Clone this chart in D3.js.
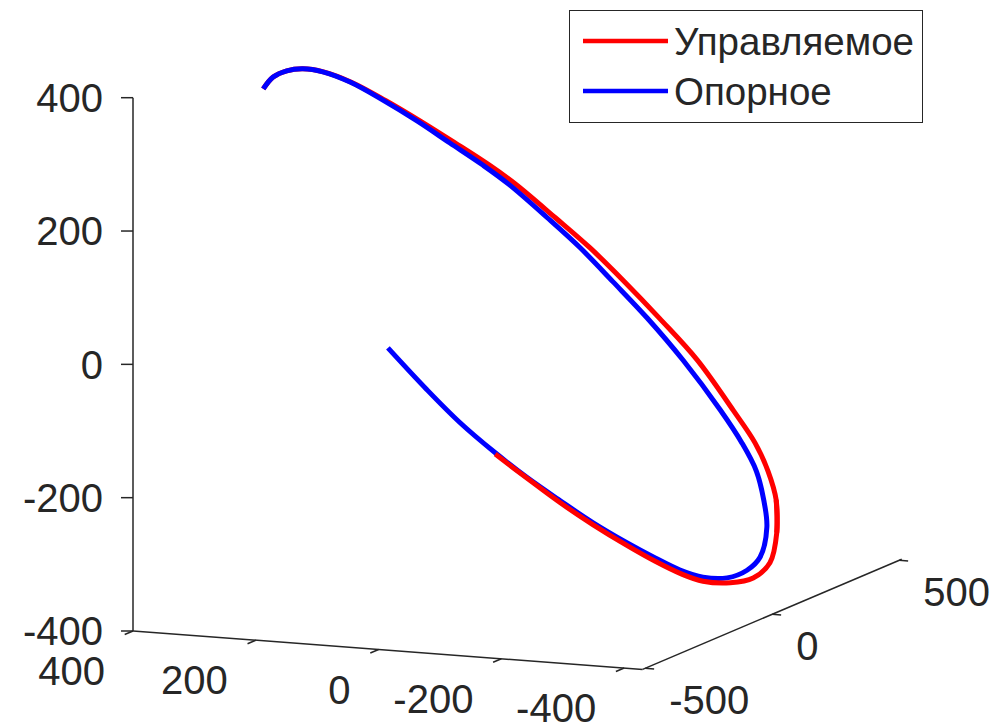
<!DOCTYPE html>
<html>
<head>
<meta charset="utf-8">
<script src="https://cdn.jsdelivr.net/npm/d3@7"></script>
<style>
body { margin: 0; background: #fff; }
text { font-family: "Liberation Sans", Arial, sans-serif; fill: #262626; }
</style>
</head>
<body>
<svg id="chart" width="998" height="726"></svg>
<script>
// series names (legend order)
var seriesNames = ["Управляемое", "Опорное"];

// tick labels
var xTicks = [400, 200, 0, -200, -400];
var yTicks = [-500, 0, 500];
var zTicks = [-400, -200, 0, 200, 400];

// reference trajectory (Опорное)
var refX = [142, 95, 58, 21, -18, -56, -93, -132, -161, -189, -218, -245, -265, -282, -289, -284, -276, -261, -238, -194, -152, -113, -76, -39, 4, 33, 70, 107, 146, 183, 215, 235, 253, 271, 283];
var refY = [-130, -90, -50, 0, 30, 70, 110, 150, 190, 220, 240, 270, 300, 310, 320, 320, 310, 290, 260, 220, 180, 140, 100, 60, 10, -20, -60, -100, -140, -180, -210, -240, -260, -270, -280];
var refZ = [-19, -85, -138, -189, -228, -267, -304, -338, -365, -386, -398, -402, -394, -375, -331, -291, -246, -202, -149, -71, -4, 54, 109, 158, 214, 245, 282, 319, 354, 385, 403, 411, 410, 401, 384];

// controlled trajectory (Управляемое)
var ctrlX = [21, -18, -56, -93, -132, -161, -189, -218, -250, -275, -294, -301, -300, -291, -278, -255, -213, -168, -127, -88, -48, -3, 27, 66, 105, 146, 181, 214, 235, 253, 271, 283];
var ctrlY = [0, 30, 70, 110, 150, 190, 220, 240, 270, 300, 320, 330, 330, 320, 300, 270, 230, 190, 150, 110, 70, 20, -10, -50, -90, -130, -180, -210, -240, -260, -270, -280];
var ctrlZ = [-191, -229, -270, -307, -342, -370, -391, -404, -409, -405, -384, -340, -291, -247, -202, -150, -71, -5, 54, 108, 157, 213, 244, 281, 317, 352, 385, 403, 411, 410, 401, 384];

var svg = d3.select("#chart");
var axisColor = "#262626";

// axis limits mapped to 0..1 along each box edge
var xs = d3.scaleLinear().domain([400, -430]).range([0, 1]);
var ys = d3.scaleLinear().domain([-510, 510]).range([0, 1]);
var zs = d3.scaleLinear().domain([-400, 400]).range([0, 1]);

// screen position of the box corner and the edge vectors (view of the 3d box)
var origin = [133, 631];
var xVec = [509.6, 38.4];
var yVec = [259.1, -110.2];
var zVec = [0, -533.3];

var proj = function(x, y, z) {
  var a = xs(x), b = ys(y), c = zs(z);
  return [origin[0] + a * xVec[0] + b * yVec[0] + c * zVec[0],
          origin[1] + a * xVec[1] + b * yVec[1] + c * zVec[1]];
};

var unit = function(v, s) {
  var l = Math.sqrt(v[0] * v[0] + v[1] * v[1]);
  return [v[0] / l * s, v[1] / l * s];
};

var xmin = xs.domain()[1], xmax = xs.domain()[0];
var ymin = ys.domain()[0], ymax = ys.domain()[1];
var zmin = zs.domain()[0], zmax = zs.domain()[1];

var axes = svg.append("g");

var seg = function(p, q) {
  axes.append("line")
    .attr("x1", p[0]).attr("y1", p[1])
    .attr("x2", q[0]).attr("y2", q[1])
    .attr("stroke", axisColor)
    .attr("stroke-width", 1.5);
};

// z axis
seg(proj(xmax, ymin, zmin), proj(xmax, ymin, zmax));
zTicks.forEach(function(t) {
  var p = proj(xmax, ymin, t);
  seg(p, [p[0] - 12, p[1]]);
  axes.append("text")
    .attr("x", p[0] - 30).attr("y", p[1])
    .attr("dy", "0.36em")
    .attr("text-anchor", "end")
    .attr("font-size", 40)
    .text(t);
});

// x axis
seg(proj(xmax, ymin, zmin), proj(xmin, ymin, zmin));
var xt = unit([-yVec[0], -yVec[1]], 9);
xTicks.forEach(function(t) {
  var p = proj(t, ymin, zmin);
  seg(p, [p[0] + xt[0], p[1] + xt[1]]);
  axes.append("text")
    .attr("x", p[0] - 28).attr("y", p[1] + 54)
    .attr("text-anchor", "end")
    .attr("font-size", 40)
    .text(t);
});

// y axis
seg(proj(xmin, ymin, zmin), proj(xmin, ymax, zmin));
var yt = unit(xVec, 9);
yTicks.forEach(function(t) {
  var p = proj(xmin, t, zmin);
  seg(p, [p[0] + yt[0], p[1] + yt[1]]);
  axes.append("text")
    .attr("x", p[0] + 24).attr("y", p[1] + 46)
    .attr("text-anchor", "start")
    .attr("font-size", 40)
    .text(t);
});

// trajectories
var toPts = function(X, Y, Z) {
  return X.map(function(d, i) { return proj(X[i], Y[i], Z[i]); });
};
var line = d3.line().curve(d3.curveCatmullRom.alpha(0.5));

var refPts = toPts(refX, refY, refZ);
var ctrlPts = toPts(ctrlX, ctrlY, ctrlZ);

var drawPath = function(pts, color) {
  svg.append("path")
    .attr("d", line(pts))
    .attr("fill", "none")
    .attr("stroke", color)
    .attr("stroke-width", 5)
    .attr("stroke-linejoin", "round");
};

// far part of the controlled curve lies behind the reference one, near part in front
drawPath(ctrlPts.slice(11), "#ff0000");
drawPath(refPts, "#0000ff");
drawPath(ctrlPts.slice(0, 13), "#ff0000");

// legend
var legend = svg.append("g");
legend.append("rect")
  .attr("x", 569.5).attr("y", 10.5)
  .attr("width", 353).attr("height", 112)
  .attr("fill", "#fff")
  .attr("stroke", axisColor)
  .attr("stroke-width", 1);

var legColors = ["#ff0000", "#0000ff"];
seriesNames.forEach(function(name, i) {
  var y = 41 + i * 50;
  legend.append("line")
    .attr("x1", 583).attr("x2", 668)
    .attr("y1", y).attr("y2", y)
    .attr("stroke", legColors[i])
    .attr("stroke-width", 4.5);
  legend.append("text")
    .attr("x", 674).attr("y", y + 14)
    .attr("font-size", 38.5)
    .text(name);
});
</script>
</body>
</html>
